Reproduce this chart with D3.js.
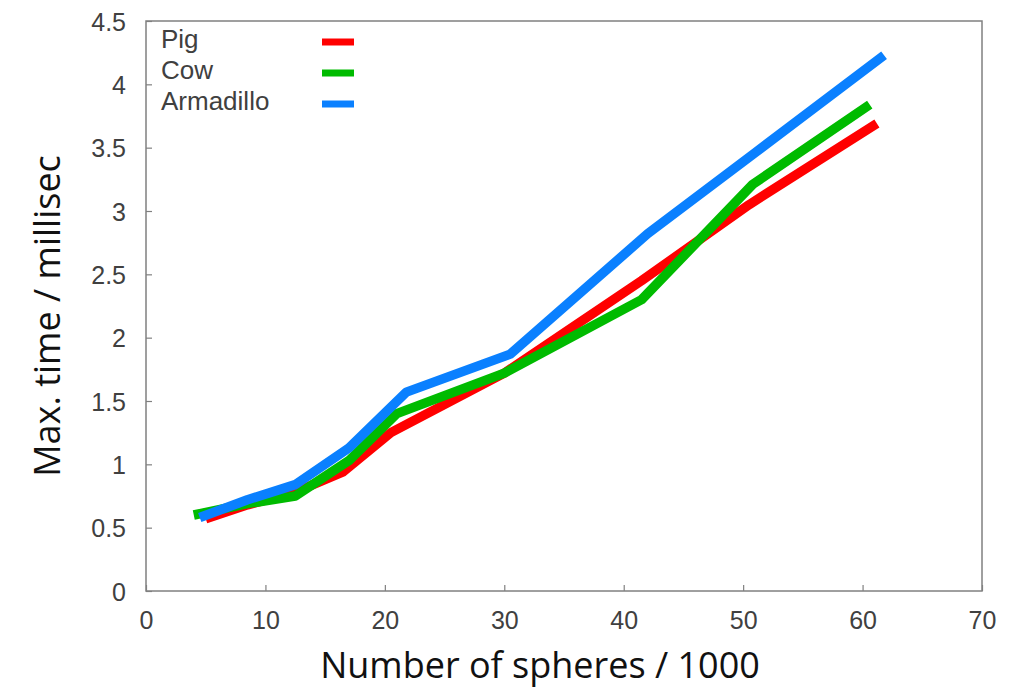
<!DOCTYPE html>
<html>
<head>
<meta charset="utf-8">
<script src="https://cdn.jsdelivr.net/npm/d3@7/dist/d3.min.js"></script>
<style>
  html, body { margin: 0; padding: 0; background: #fff; }
  svg { display: block; }
</style>
</head>
<body>
<svg id="chart" width="1012" height="699"></svg>
<script>
// Number of spheres (thousands) and max. time (ms) per model
const pigX = [5, 8.5, 12.5, 16.5, 20.5, 30, 41.5, 50.5, 61.2];
const pigY = [0.57, 0.68, 0.78, 0.94, 1.25, 1.72, 2.45, 3.05, 3.69];
const cowX = [4, 8.5, 12.5, 17, 21, 30, 41.5, 50.8, 60.6];
const cowY = [0.6, 0.69, 0.75, 1.03, 1.4, 1.72, 2.3, 3.21, 3.84];
const armadilloX = [4.5, 8.5, 12.5, 17, 21.8, 30.5, 42, 51, 61.8];
const armadilloY = [0.58, 0.72, 0.84, 1.13, 1.57, 1.87, 2.82, 3.46, 4.23];

const seriesNames = ["Pig", "Cow", "Armadillo"];
const seriesColors = ["#ff0000", "#00bb00", "#0a80ff"];
const xTicks = [0, 10, 20, 30, 40, 50, 60, 70];
const yTicks = [0, 0.5, 1, 1.5, 2, 2.5, 3, 3.5, 4, 4.5];

const series = [
  { name: seriesNames[0], color: seriesColors[0], pts: pigX.map((x, i) => [x, pigY[i]]) },
  { name: seriesNames[1], color: seriesColors[1], pts: cowX.map((x, i) => [x, cowY[i]]) },
  { name: seriesNames[2], color: seriesColors[2], pts: armadilloX.map((x, i) => [x, armadilloY[i]]) }
];

const svg = d3.select("#chart");
const margin = { left: 146, right: 30, top: 21, bottom: 108 };
const W = 1012, H = 699;
const x = d3.scaleLinear().domain([0, 70]).range([margin.left, W - margin.right]);
const y = d3.scaleLinear().domain([0, 4.5]).range([H - margin.bottom, margin.top]);

const tickFont = "'Liberation Sans', Arial, sans-serif";
const titleFont = "'Open Sans', 'DejaVu Sans', sans-serif";

// Bottom axis: inward ticks, labels below
const xAxis = svg.append("g")
  .attr("transform", `translate(0,${y(0)})`)
  .call(d3.axisBottom(x).tickValues(xTicks).tickFormat(d3.format("d")).tickSizeInner(-6).tickSizeOuter(0).tickPadding(20));
// Left axis: inward ticks
const yAxis = svg.append("g")
  .attr("transform", `translate(${x(0)},0)`)
  .call(d3.axisLeft(y).tickValues(yTicks).tickFormat(d => String(d)).tickSizeInner(-6).tickSizeOuter(0).tickPadding(20));

[xAxis, yAxis].forEach(g => {
  g.select(".domain").remove();
  g.selectAll(".tick line").attr("stroke", "#808080").attr("stroke-width", 1.2);
  g.selectAll(".tick text").attr("fill", "#404040")
    .style("font-family", tickFont).style("font-size", "25px");
});
xAxis.selectAll(".tick text").attr("dy", "0.71em");
yAxis.selectAll(".tick text").attr("dy", "0.36em");

// Plot frame
svg.append("rect")
  .attr("x", x(0)).attr("y", y(4.5))
  .attr("width", x(70) - x(0)).attr("height", y(0) - y(4.5))
  .attr("fill", "none").attr("stroke", "#808080").attr("stroke-width", 1.5);

// Series lines
const line = d3.line().x(d => x(d[0])).y(d => y(d[1]));
svg.append("g").selectAll("path")
  .data(series)
  .join("path")
  .attr("d", d => line(d.pts))
  .attr("fill", "none")
  .attr("stroke", d => d.color)
  .attr("stroke-width", 9.5)
  .attr("stroke-linejoin", "round")
  .attr("stroke-linecap", "butt");

// Legend
const legend = svg.append("g");
series.forEach((s, i) => {
  const yy = 42 + i * 31;
  legend.append("text")
    .attr("x", 161).attr("y", yy + 6)
    .attr("fill", "#404040")
    .style("font-family", tickFont).style("font-size", "26px")
    .text(s.name);
  legend.append("line")
    .attr("x1", 322).attr("x2", 354)
    .attr("y1", yy).attr("y2", yy)
    .attr("stroke", s.color).attr("stroke-width", 7);
});

// Axis titles
svg.append("text")
  .attr("x", 540).attr("y", 678)
  .attr("text-anchor", "middle")
  .attr("fill", "#111")
  .style("font-family", titleFont).style("font-size", "36px")
  .text("Number of spheres / 1000");
svg.append("text")
  .attr("transform", `translate(60,${316}) rotate(-90)`)
  .attr("text-anchor", "middle")
  .attr("fill", "#111")
  .style("font-family", titleFont).style("font-size", "36px")
  .text("Max. time / millisec");
</script>
</body>
</html>
